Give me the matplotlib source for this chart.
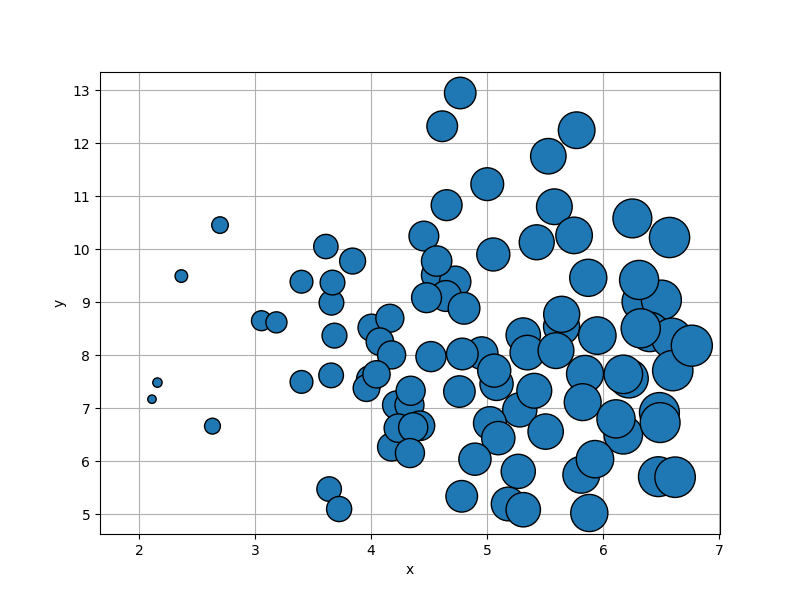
import numpy as np
import matplotlib
matplotlib.use("Agg")
import matplotlib.pyplot as plt

x = np.array([
    1.907,
    2.112, 2.159, 2.365, 2.633, 2.698, 3.055, 3.184, 3.40, 3.40, 3.61,
    3.658, 3.667, 3.684, 3.655, 3.84, 3.638, 3.724,
    4.003, 4.161, 4.075, 4.176, 3.99, 3.96, 4.046,
    4.22, 4.33, 4.42, 4.176, 4.234, 4.34, 4.362, 4.334,
    4.515, 4.952, 5.08, 4.785, 5.06, 4.76,
    4.454, 4.564, 4.724, 4.644, 4.477, 4.80, 4.564, 5.052,
    4.767, 4.612, 5.00, 4.65, 5.77, 5.526, 5.578,
    5.426, 5.748, 6.25, 6.57, 5.87, 6.33, 6.50, 6.308,
    5.64, 5.641, 5.31, 5.948, 6.40, 6.59, 6.322, 6.598, 6.762,
    5.345, 5.592, 5.842, 6.22, 6.172,
    5.28, 5.405, 5.822, 6.172, 6.109, 6.483, 6.489, 5.503,
    5.023, 5.095, 5.81, 5.928, 5.879, 6.474, 6.618,
    4.894, 5.267, 4.78, 5.18, 5.31,
])
y = np.array([
    7.00,
    7.171, 7.484, 9.493, 6.663, 10.454, 8.651, 8.62, 9.386, 7.497, 10.05,
    8.99, 9.37, 8.37, 7.62, 9.776, 5.476, 5.10,
    8.52, 8.697, 8.256, 8.006, 7.55, 7.38, 7.64,
    7.06, 7.06, 6.67, 6.27, 6.625, 7.33, 6.64, 6.155,
    7.974, 8.04, 7.46, 8.024, 7.71, 7.315,
    10.247, 9.51, 9.386, 9.117, 9.085, 8.885, 9.776, 9.90,
    12.945, 12.318, 11.226, 10.83, 12.243, 11.753, 10.80,
    10.13, 10.26, 10.58, 10.22, 9.46, 9.01, 9.04, 9.42,
    8.54, 8.772, 8.38, 8.37, 8.44, 8.32, 8.508, 7.71, 8.18,
    8.05, 8.087, 7.648, 7.56, 7.64,
    6.97, 7.33, 7.115, 6.50, 6.80, 6.92, 6.73, 6.56,
    6.72, 6.437, 5.746, 6.04, 5.025, 5.71, 5.70,
    6.04, 5.81, 5.34, 5.195, 5.087,
])

# marker area grows with x
sizes = 180 * (x - x.min())

fig, ax = plt.subplots(figsize=(8, 6), dpi=100)
ax.scatter(x, y, s=sizes, c="#1f77b4", edgecolors="black", zorder=2)
ax.grid(True, zorder=0)
ax.set_axisbelow(True)
ax.set_xlabel("x")
ax.set_ylabel("y")
fig.savefig("out.png", dpi=100)
